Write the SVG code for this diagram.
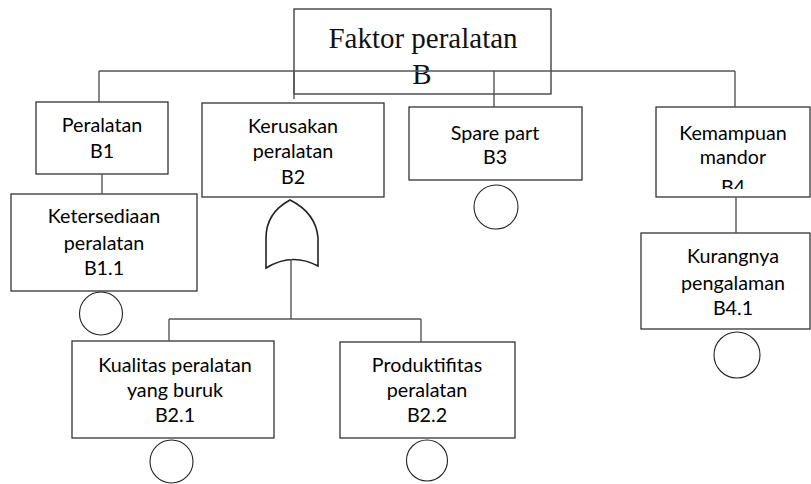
<svg xmlns="http://www.w3.org/2000/svg" width="811" height="484" viewBox="0 0 811 484">
<style>
.box{fill:#fff;stroke:#222;stroke-width:1.2}
.t{font-family:Lato,"Noto Sans",sans-serif;font-size:19.7px;fill:#000;text-anchor:middle}
.title{font-family:"Liberation Serif",serif;font-size:29px;fill:#111;text-anchor:middle}
.c{fill:none;stroke:#555;stroke-width:1.4}
.ev{fill:#fff;stroke:#222;stroke-width:1.1}
.gate{fill:#fff;stroke:#222;stroke-width:1.6}
</style>
<defs>
<clipPath id="clipB4"><rect x="656" y="107" width="155" height="82"/></clipPath>
</defs>
<g id="nodeB">
<rect class="box" x="294" y="9" width="257" height="85"/>
<text class="title" x="423" y="48">Faktor peralatan</text>
<text class="title" x="422" y="84">B</text>
</g>
<g id="nodeB1">
<rect class="box" x="36" y="102" width="132" height="72"/>
<text class="t" x="102" y="132">Peralatan</text>
<text class="t" x="102" y="158">B1</text>
</g>
<g id="nodeB1_1">
<rect class="box" x="11" y="194" width="186" height="97"/>
<text class="t" x="104" y="223">Ketersediaan</text>
<text class="t" x="104" y="250">peralatan</text>
<text class="t" x="104" y="275">B1.1</text>
<circle class="ev" cx="101" cy="313.5" r="21.5"/>
</g>
<g id="nodeB2">
<rect class="box" x="202" y="103" width="182" height="94"/>
<text class="t" x="293" y="133">Kerusakan</text>
<text class="t" x="293" y="158">peralatan</text>
<text class="t" x="293" y="184">B2</text>
</g>
<g id="gateOR">
<path class="gate" d="M266,268 L266,238 Q266,213 290,200 Q316,213 318,238 L318,266 Q292,252 266,268 Z"/>
</g>
<g id="nodeB3">
<rect class="box" x="409" y="107" width="173" height="73"/>
<text class="t" x="495" y="140">Spare part</text>
<text class="t" x="495" y="164">B3</text>
<circle class="ev" cx="496" cy="207" r="22"/>
</g>
<g id="nodeB4">
<rect class="box" x="656" y="107" width="154" height="90"/>
<text class="t" x="733" y="140">Kemampuan</text>
<text class="t" x="733" y="164">mandor</text>
<text class="t" x="733" y="194" clip-path="url(#clipB4)">B4</text>
</g>
<g id="nodeB4_1">
<rect class="box" x="641" y="233" width="169" height="96"/>
<text class="t" x="733" y="263">Kurangnya</text>
<text class="t" x="733" y="290">pengalaman</text>
<text class="t" x="733" y="315">B4.1</text>
<circle class="ev" cx="737" cy="355" r="23"/>
</g>
<g id="nodeB2_1">
<rect class="box" x="72" y="341" width="202" height="97"/>
<text class="t" x="175" y="372">Kualitas peralatan</text>
<text class="t" x="175" y="397">yang buruk</text>
<text class="t" x="175" y="422">B2.1</text>
<circle class="ev" cx="171.5" cy="461.5" r="21.5"/>
</g>
<g id="nodeB2_2">
<rect class="box" x="340" y="342" width="175" height="96"/>
<text class="t" x="427" y="372">Produktifitas</text>
<text class="t" x="427" y="397">peralatan</text>
<text class="t" x="427" y="422">B2.2</text>
<circle class="ev" cx="427" cy="460.5" r="20.5"/>
</g>
<g id="connectors">
<path class="c" d="M99,71 H735"/>
<path class="c" d="M99,71 V102"/>
<path class="c" d="M294,71 V99"/>
<path class="c" d="M494,71 V107"/>
<path class="c" d="M735,71 V107"/>
<path class="c" d="M102,174 V194"/>
<path class="c" d="M736,197 V233"/>
<path class="c" d="M291,259 V319"/>
<path class="c" d="M169,319 H421"/>
<path class="c" d="M169,319 V341"/>
<path class="c" d="M421,319 V342"/>
</g>
</svg>
